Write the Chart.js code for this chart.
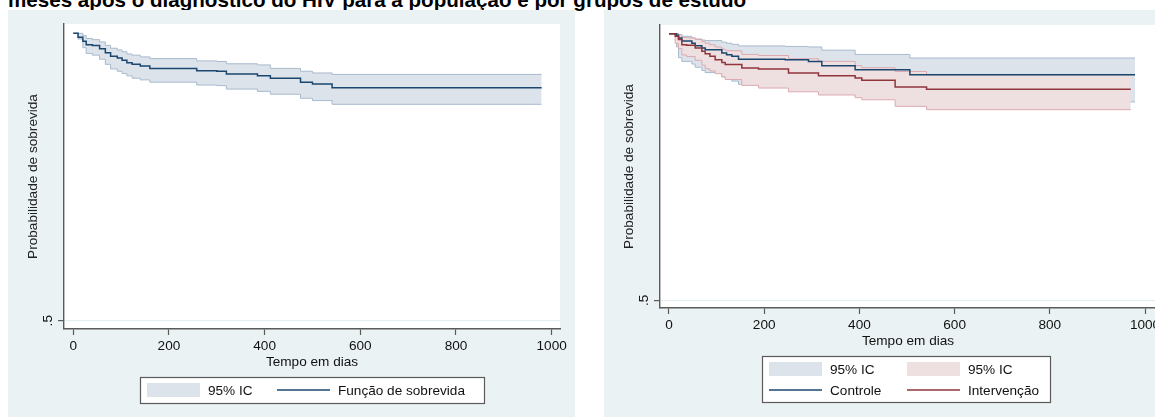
<!DOCTYPE html>
<html>
<head>
<meta charset="utf-8">
<title>Sobrevida HIV</title>
<script src="https://cdn.jsdelivr.net/npm/chart.js"></script>
<style>
  html, body { margin: 0; padding: 0; background: #fff; overflow: hidden; }
  body { width: 1155px; height: 417px; position: relative; font-family: "Liberation Sans", Arial, sans-serif; }
  #titulo { position: absolute; left: 8px; top: -10px; font-weight: bold; font-size: 20.6px; line-height: 20.6px; white-space: nowrap; color: #000; }
  .painel { position: absolute; top: 10px; width: 567px; height: 407px; background: #eaf2f4; }
  #p1 { left: 8px; }
  #p2 { left: 604px; }
</style>
</head>
<body>
<div id="titulo">meses após o diagnóstico do HIV para a população e por grupos de estudo</div>
<div class="painel" id="p1"><canvas id="c1" width="567" height="407"></canvas></div>
<div class="painel" id="p2"><canvas id="c2" width="567" height="407"></canvas></div>

<script>
// dados (Kaplan-Meier)
const tempoPop = [0, 10, 20, 27, 40, 55, 67, 78, 92, 102, 112, 123, 140, 160, 258, 300, 320, 385, 412, 475, 500, 541, 979];
const survPop  = [1.000, 0.993, 0.986, 0.980, 0.979, 0.973, 0.966, 0.960, 0.957, 0.953, 0.949, 0.946, 0.943, 0.939, 0.935, 0.934, 0.929, 0.926, 0.922, 0.915, 0.912, 0.9055, 0.9055];
const icPopSup = [1.000, 1.000, 0.996, 0.991, 0.989, 0.985, 0.979, 0.974, 0.971, 0.968, 0.964, 0.962, 0.959, 0.956, 0.952, 0.951, 0.947, 0.945, 0.939, 0.934, 0.931, 0.9285, 0.9285];
const icPopInf = [1.000, 0.990, 0.975, 0.965, 0.962, 0.955, 0.946, 0.938, 0.934, 0.930, 0.926, 0.922, 0.919, 0.915, 0.910, 0.909, 0.903, 0.899, 0.894, 0.887, 0.883, 0.8765, 0.8765];

const tempoCtrl = [0, 16, 20, 27, 48, 55, 69, 76, 111, 121, 132, 146, 244, 293, 321, 391, 506, 979];
const survCtrl  = [1.000, 0.997, 0.992, 0.986, 0.982, 0.9775, 0.973, 0.970, 0.9636, 0.9606, 0.9574, 0.952, 0.951, 0.948, 0.940, 0.9325, 0.923, 0.923];
const icCtrlSup = [1.000, 1.000, 0.998, 0.995, 0.992, 0.990, 0.988, 0.987, 0.984, 0.982, 0.980, 0.977, 0.976, 0.975, 0.969, 0.961, 0.9543, 0.9543];
const icCtrlInf = [1.000, 0.975, 0.955, 0.948, 0.943, 0.937, 0.931, 0.927, 0.919, 0.915, 0.911, 0.905, 0.904, 0.900, 0.891, 0.882, 0.872, 0.872];

const tempoInt = [0, 13, 20, 27, 37, 55, 69, 76, 86, 97, 111, 118, 153, 188, 251, 314, 391, 405, 475, 541, 970];
const survInt  = [1.000, 0.995, 0.989, 0.979, 0.978, 0.973, 0.967, 0.9625, 0.9574, 0.951, 0.946, 0.942, 0.9355, 0.9336, 0.926, 0.921, 0.9168, 0.9125, 0.900, 0.8956, 0.8956];
const icIntSup = [1.000, 1.000, 0.998, 0.993, 0.992, 0.989, 0.985, 0.982, 0.979, 0.975, 0.971, 0.968, 0.961, 0.959, 0.953, 0.948, 0.940, 0.936, 0.929, 0.923, 0.923];
const icIntInf = [1.000, 0.982, 0.972, 0.960, 0.957, 0.950, 0.941, 0.934, 0.930, 0.925, 0.919, 0.914, 0.903, 0.898, 0.891, 0.885, 0.880, 0.876, 0.8637, 0.8575, 0.8575];

const xTicks = [0, 200, 400, 600, 800, 1000];
const xTickLabels = ['0', '200', '400', '600', '800', '1000'];
const yTicks = [0.5];
const yTickLabels = ['.5'];

const FONTE = '"Liberation Sans", Arial, sans-serif';
const AZUL = '#1a476f', AZUL_IC = '#dce3eb', AZUL_BORDA = '#a8bacd';
const VERM = '#90353b', VERM_IC = '#eedfe1', VERM_BORDA = '#dcaab0';
const EIXO = '#5a5a5a';

function pts(t, s) { return t.map((v, i) => ({ x: v, y: s[i] })); }

function serie(t, s, cor, larg, fill, bg, ordem) {
  return {
    data: pts(t, s), borderColor: cor, borderWidth: larg, backgroundColor: bg || 'transparent',
    fill: fill, stepped: true, pointRadius: 0, order: ordem
  };
}

function escalas(xMin, xMax) {
  return {
    x: {
      type: 'linear', min: xMin, max: xMax,
      afterBuildTicks: s => { s.ticks = xTicks.map(v => ({ value: v })); },
      afterFit: s => { s.height = 50; },
      grid: { drawOnChartArea: false, tickLength: 6, tickColor: EIXO, tickWidth: 1.2 },
      border: { color: EIXO, width: 1.4 },
      ticks: {
        color: '#111', font: { family: FONTE, size: 13.6 }, padding: 3, maxRotation: 0,
        callback: (v, i) => xTickLabels[i]
      },
      title: { display: true, text: 'Tempo em dias', color: '#111', font: { family: FONTE, size: 13.6 }, padding: { top: 0, bottom: 9 } }
    },
    y: {
      type: 'linear', min: 0.4856, max: 1.0162,
      afterBuildTicks: s => { s.ticks = yTicks.map(v => ({ value: v })); },
      afterFit: s => { s.width = 56; },
      grid: { color: '#e6eef1', lineWidth: 1.2, tickLength: 6, tickColor: EIXO, tickWidth: 1.2 },
      border: { color: EIXO, width: 1.4 },
      ticks: {
        color: '#111', font: { family: FONTE, size: 13.6 }, padding: 4, minRotation: 90, maxRotation: 90,
        crossAlign: 'center', callback: (v, i) => yTickLabels[i]
      },
      title: { display: true, text: 'Probabilidade de sobrevida', color: '#222', font: { family: FONTE, size: 13.6 }, padding: { top: 17, bottom: 0 } }
    }
  };
}

// fundo branco da area do grafico + legenda em caixa (estilo Stata)
const fundo = {
  id: 'fundo',
  beforeDraw(chart) {
    const a = chart.chartArea, ctx = chart.ctx;
    ctx.save();
    ctx.fillStyle = '#fff';
    ctx.fillRect(a.left, a.top, a.right - a.left, a.bottom - a.top);
    ctx.restore();
  }
};

const legenda = {
  id: 'legenda',
  afterDraw(chart, args, opts) {
    const ctx = chart.ctx, b = opts.caixa;
    ctx.save();
    ctx.fillStyle = '#fff';
    ctx.fillRect(b.x, b.y, b.w, b.h);
    ctx.strokeStyle = EIXO;
    ctx.lineWidth = 1.2;
    ctx.strokeRect(b.x + 0.5, b.y + 0.5, b.w, b.h);
    ctx.font = '13.6px ' + FONTE;
    ctx.textBaseline = 'middle';
    opts.itens.forEach(it => {
      if (it.tipo === 'area') {
        ctx.fillStyle = it.cor;
        ctx.fillRect(it.x, it.y - 7, 53, 14);
      } else {
        ctx.strokeStyle = it.cor;
        ctx.lineWidth = 1.4;
        ctx.beginPath();
        ctx.moveTo(it.x, it.y);
        ctx.lineTo(it.x + 53, it.y);
        ctx.stroke();
      }
      ctx.fillStyle = '#111';
      ctx.fillText(it.texto, it.x + 61, it.y + 1);
    });
    ctx.restore();
  }
};

new Chart(document.getElementById('c1'), {
  type: 'line',
  data: {
    datasets: [
      serie(tempoPop, icPopSup, AZUL_BORDA, 1, '+1', AZUL_IC, 3),
      serie(tempoPop, icPopInf, AZUL_BORDA, 1, false, null, 2),
      serie(tempoPop, survPop, AZUL, 1.5, false, null, 1)
    ]
  },
  options: {
    responsive: false, animation: false,
    layout: { padding: { left: 0, top: 14, right: 15, bottom: 38 } },
    scales: escalas(-19.4, 1017.4),
    plugins: {
      legend: { display: false }, tooltip: { enabled: false },
      legenda: {
        caixa: { x: 132, y: 367, w: 344, h: 26 },
        itens: [
          { tipo: 'area', cor: AZUL_IC, x: 139, y: 380, texto: '95% IC' },
          { tipo: 'linha', cor: AZUL, x: 269, y: 380, texto: 'Função de sobrevida' }
        ]
      }
    }
  },
  plugins: [fundo, legenda]
});

new Chart(document.getElementById('c2'), {
  type: 'line',
  data: {
    datasets: [
      serie(tempoCtrl, icCtrlSup, AZUL_BORDA, 1, '+1', AZUL_IC, 6),
      serie(tempoCtrl, icCtrlInf, AZUL_BORDA, 1, false, null, 5),
      serie(tempoInt, icIntSup, VERM_BORDA, 1, '+1', VERM_IC, 4),
      serie(tempoInt, icIntInf, VERM_BORDA, 1, false, null, 3),
      serie(tempoCtrl, survCtrl, AZUL, 1.5, false, null, 2),
      serie(tempoInt, survInt, VERM, 1.5, false, null, 1)
    ]
  },
  options: {
    responsive: false, animation: false,
    layout: { padding: { left: 0, top: 15, right: 15, bottom: 59 } },
    scales: escalas(-18.9, 1023),
    plugins: {
      legend: { display: false }, tooltip: { enabled: false },
      legenda: {
        caixa: { x: 158, y: 346, w: 288, h: 46 },
        itens: [
          { tipo: 'area', cor: AZUL_IC, x: 165, y: 359, texto: '95% IC' },
          { tipo: 'area', cor: VERM_IC, x: 303, y: 359, texto: '95% IC' },
          { tipo: 'linha', cor: AZUL, x: 165, y: 380, texto: 'Controle' },
          { tipo: 'linha', cor: VERM, x: 303, y: 380, texto: 'Intervenção' }
        ]
      }
    }
  },
  plugins: [fundo, legenda]
});
</script>
</body>
</html>
